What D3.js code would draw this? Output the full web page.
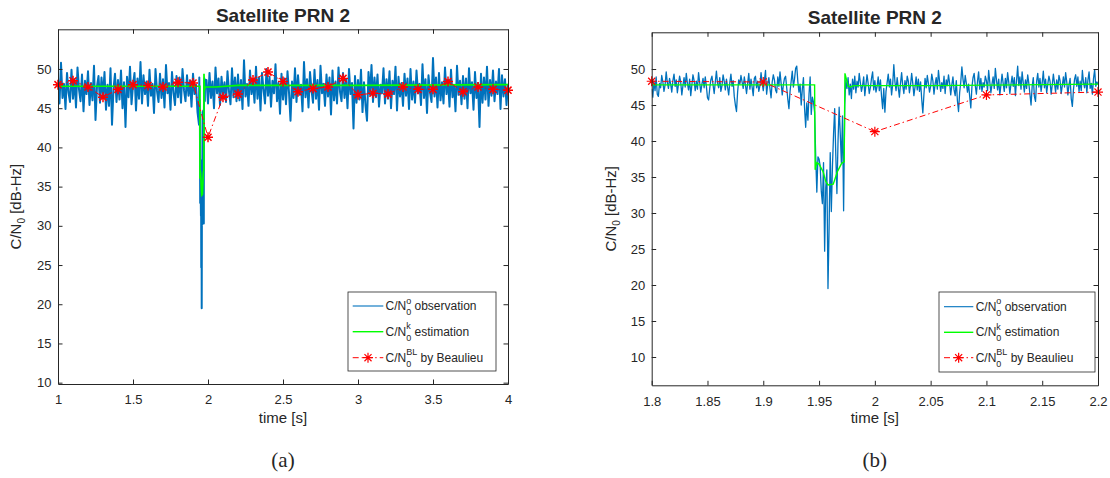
<!DOCTYPE html>
<html>
<head>
<meta charset="utf-8">
<script src="https://cdn.jsdelivr.net/npm/d3@7"></script>
<style>
  body { margin: 0; background: #fff; }
  text { font-family: "Liberation Sans", Arial, sans-serif; fill: #262626; }
</style>
</head>
<body>
<svg id="fig" width="1110" height="478"></svg>
<script>
// C/N0 observation, 1 ms samples from 1.800 s to 2.200 s
var fineStart = 1.8, fineStep = 0.001;
var obsFine = [
  47.2,46.1,48.3,47.0,48.9,46.5,46.2,48.0,47.4,49.1,
  48.2,46.9,47.8,49.6,48.1,47.3,48.7,47.9,46.8,48.4,
  49.3,47.6,48.5,46.7,47.9,49.0,48.2,46.4,47.7,48.8,
  47.5,49.4,48.0,47.1,48.6,46.3,47.8,49.2,48.4,47.0,
  48.3,47.2,49.5,48.1,46.8,47.9,48.7,47.4,48.9,47.6,
  46.0,45.7,47.3,48.5,49.0,47.8,46.6,48.2,49.7,48.0,
  47.4,48.8,46.9,47.7,49.2,48.3,47.1,48.6,47.5,46.4,
  48.1,49.3,47.6,48.4,46.2,45.0,44.1,46.8,48.5,47.9,
  49.1,48.2,47.3,48.9,47.8,46.6,48.0,49.4,47.2,48.6,
  47.5,46.3,48.7,49.0,47.4,48.3,46.9,47.7,49.5,48.1,
  47.0,48.4,49.8,46.5,47.9,48.8,47.3,46.0,48.2,49.2,
  48.5,47.1,46.7,48.9,47.6,49.6,48.0,46.4,47.8,48.7,
  49.0,47.4,45.8,44.5,46.9,48.3,49.7,47.5,48.6,50.1,
  50.4,48.2,46.8,47.9,45.0,47.2,48.8,44.6,41.9,45.3,
  42.9,46.5,48.9,43.7,46.1,45.4,
  44.0,37.8,32.9,37.8,37.5,36.5,33.0,31.3,37.0,24.7,
  33.5,36.0,19.5,28.0,38.4,30.2,36.5,41.0,44.5,38.0,
  32.7,40.0,44.7,41.0,37.0,43.5,30.3,45.0,48.5,
  47.3,48.8,46.4,47.9,45.9,
  48.6,47.2,49.0,46.7,48.3,47.5,49.4,48.1,46.9,47.7,
  48.9,46.3,47.8,49.2,48.0,46.6,47.4,48.7,49.6,47.1,
  48.4,46.8,47.6,48.9,47.0,48.5,46.2,44.5,47.3,44.0,
  46.9,48.1,49.3,47.5,48.6,46.4,47.9,50.6,48.2,47.0,
  48.8,47.4,46.1,48.0,49.5,47.7,46.6,48.4,47.2,49.0,
  48.3,46.7,47.8,49.4,48.0,46.3,47.5,48.9,47.1,48.6,
  46.9,48.2,45.8,43.9,46.5,48.7,47.4,49.1,48.0,46.8,
  47.6,49.3,48.4,46.5,47.9,48.8,47.2,49.8,48.3,46.9,
  48.1,47.3,49.0,46.6,48.5,47.7,49.2,48.0,46.4,47.8,
  48.9,47.1,46.3,48.4,45.6,44.1,46.7,48.2,50.3,48.6,
  47.4,49.1,48.0,46.8,47.9,46.2,44.6,47.5,48.8,49.4,
  47.7,46.5,48.3,49.6,47.2,48.7,46.9,48.1,47.5,49.0,
  48.4,47.0,49.8,48.2,46.7,47.9,48.9,47.3,50.1,48.5,
  47.1,48.6,46.4,47.8,49.3,48.0,46.9,48.7,47.4,49.5,
  48.2,46.6,47.9,49.0,47.6,48.8,46.3,48.4,50.4,47.7,
  48.9,47.2,49.6,48.1,46.8,48.5,47.3,49.2,48.0,46.5,
  45.0,47.6,48.8,46.2,45.5,48.3,49.4,47.5,48.7,46.9,
  48.1,49.7,47.4,48.6,46.7,47.9,49.0,48.3,46.5,47.8,
  49.3,48.0,46.8,48.5,47.2,49.1,48.4,46.6,47.7,48.9,
  47.5,49.5,48.2,46.4,47.8,48.7,45.9,44.8,47.1,48.6,
  49.2,47.6,48.9,46.9,48.3,47.0,49.8,48.1,47.4,48.8,
  46.7,48.5,49.6,47.3,48.0,46.5,48.7,49.9,47.6,48.2,
  47.9
];

// C/N0 observation, 10 ms samples from 1.00 s to 4.00 s
var coarseStart = 1.0, coarseStep = 0.01;
var obsCoarse = [
  48.9,45.6,50.8,46.3,48.1,44.9,49.5,47.0,45.8,49.9,
  46.2,48.7,45.1,50.2,47.4,45.9,49.3,44.6,48.5,46.8,
  49.7,45.4,48.2,46.0,50.4,43.5,47.8,49.1,45.7,48.9,
  46.5,49.6,44.8,48.0,45.3,50.1,42.9,47.5,49.4,45.8,
  48.6,46.1,49.8,45.0,48.3,42.6,49.0,46.4,50.3,45.5,
  47.9,49.5,44.7,48.8,46.2,50.9,45.6,49.2,46.8,48.4,
  45.3,49.9,46.6,48.1,44.4,50.0,47.2,45.8,49.4,46.3,
  48.7,45.1,50.5,46.9,48.2,44.8,49.6,47.0,45.4,49.1,
  46.4,48.9,45.7,50.0,47.3,45.9,49.2,46.6,48.5,45.2,
  49.4,46.8,48.0,44.5,49.9,46.1,42.8,36.0,47.7,48.6,
  45.6,49.5,46.3,48.4,45.0,50.2,46.9,48.8,45.4,49.0,
  46.7,48.3,45.8,49.7,47.1,45.5,50.1,46.4,48.9,45.9,
  49.3,46.0,48.6,44.9,51.1,46.5,48.1,45.3,49.8,46.8,
  48.4,45.7,50.3,46.2,48.9,44.7,49.5,47.4,45.6,50.0,
  46.6,49.0,45.2,48.5,46.9,50.6,45.9,48.2,44.3,49.4,
  46.1,48.8,45.5,49.7,47.0,43.4,48.4,46.3,50.1,45.8,
  49.2,46.7,48.0,44.6,50.9,46.4,48.7,45.1,49.6,47.3,
  45.7,49.9,46.2,48.6,44.8,50.4,46.9,48.1,45.3,49.3,
  46.5,48.9,44.2,49.8,46.0,48.4,45.6,50.2,47.1,45.9,
  49.5,46.3,48.7,45.0,50.0,46.8,48.2,42.4,49.1,45.7,
  48.6,46.1,49.9,44.5,48.3,45.4,43.4,49.6,46.7,50.5,
  45.8,48.9,46.4,49.3,45.2,48.0,46.9,50.1,45.6,48.7,
  46.2,49.7,45.0,48.5,46.8,50.3,44.7,49.0,46.5,48.2,
  45.3,49.4,46.6,48.8,44.9,50.0,46.1,48.4,45.7,49.8,
  46.9,48.1,45.4,50.6,46.3,48.7,44.4,49.2,47.0,45.8,
  51.4,46.5,48.9,45.1,49.5,46.0,48.3,45.6,50.2,46.8,
  48.6,45.2,49.9,46.4,48.0,44.6,50.4,46.7,48.5,45.5,
  49.1,46.2,48.8,45.0,50.1,46.9,48.3,44.8,49.6,46.3,
  48.2,42.6,49.4,45.7,48.9,46.1,50.3,45.3,48.6,46.6,
  49.8,45.9,48.4,46.8,50.0,44.9,49.2,46.5,48.7,45.4,
  48.1
];

// C/N0 estimation (green)
var estTime  = [1.000, 1.946, 1.9465, 1.948, 1.950, 1.9537, 1.956, 1.958, 1.9627, 1.9663, 1.9702, 1.9725, 1.9732, 1.9745, 1.976, 1.978, 1.981, 2.05, 2.2, 3.0, 4.0];
var estValue = [47.8, 47.8, 36.0, 37.0, 36.8, 35.7, 34.4, 33.9, 34.0, 35.7, 36.9, 37.1, 49.4, 48.6, 47.6, 47.5, 47.7, 47.7, 47.9, 47.9, 48.0];

// C/N0 by Beaulieu (red, every 0.1 s)
var blTime  = [1.0,1.1,1.2,1.3,1.4,1.5,1.6,1.7,1.8,1.9,2.0,2.1,2.2,2.3,2.4,2.5,2.6,2.7,2.8,2.9,3.0,3.1,3.2,3.3,3.4,3.5,3.6,3.7,3.8,3.9,4.0];
var blValue = [48.0,48.5,47.7,46.4,47.4,48.0,47.9,47.7,48.3,48.2,41.3,46.4,46.8,48.6,49.6,48.4,47.1,47.5,47.7,48.8,46.7,46.9,46.8,47.7,47.4,47.4,48.4,47.1,47.7,47.4,47.3];

var xTicksA = [1, 1.5, 2, 2.5, 3, 3.5, 4];
var xTicksB = [1.8, 1.85, 1.9, 1.95, 2, 2.05, 2.1, 2.15, 2.2];
var yTicks  = [10, 15, 20, 25, 30, 35, 40, 45, 50];
var legendSup  = ["o", "k", "BL"];
var legendRest = ["observation", "estimation", "by Beaulieu"];

var cBlue = "#0072BD", cGreen = "#00FF00", cRed = "#FF0000", cAxis = "#262626";

var svg = d3.select("#fig");

// observation points for each panel; panel a uses the 1 ms samples only around the fade
var fineObs = obsFine.map(function (v, i) { return [fineStart + i * fineStep, v]; });
var coarseObs = obsCoarse.map(function (v, i) { return [coarseStart + i * coarseStep, v]; });
var obsA = coarseObs.filter(function (d, i) { return i < 94; })
  .concat(fineObs.filter(function (d, i) { return i >= 140 && i <= 180; }))
  .concat(coarseObs.filter(function (d, i) { return i > 98; }));
var estPts = estTime.map(function (t, i) { return [t, estValue[i]]; });
var blPts = blTime.map(function (t, i) { return [t, blValue[i]]; });

var panels = [
  { key: "a", left: 58, right: 508, top: 29.3, bottom: 384, xDom: [1, 4], yDom: [9.83, 55.06],
    xTicks: xTicksA, obs: obsA, obsWidth: 2, estWidth: 1.7, starWidth: 1.5, titleY: 21.7, ylabX: 20.5,
    legend: { x: 348, y: 292, w: 148, h: 79, lx1: 352.7, lx2: 383.3, tx: 385.5, rows: [306, 331.7, 357.7] } },
  { key: "b", left: 651.7, right: 1098, top: 32.3, bottom: 385.3, xDom: [1.8, 2.2], yDom: [6.07, 55.1],
    xTicks: xTicksB, obs: fineObs, obsWidth: 1.3, estWidth: 1.4, starWidth: 1.2, titleY: 24, ylabX: 615.5,
    legend: { x: 939, y: 292, w: 156, h: 80, lx1: 944, lx2: 973.3, tx: 975.7, rows: [306.7, 332.3, 357.7] } }
];

function asterisk(r) {
  var a = r * 0.7071;
  return "M" + (-r) + ",0L" + r + ",0M0," + (-r) + "L0," + r +
    "M" + (-a) + "," + (-a) + "L" + a + "," + a + "M" + (-a) + "," + a + "L" + a + "," + (-a);
}

function styleAxis(g) {
  g.attr("font-family", null).attr("font-size", null);
  g.selectAll(".domain").attr("stroke", cAxis).attr("stroke-width", 1);
  g.selectAll(".tick line").attr("stroke", cAxis).attr("stroke-width", 1);
  g.selectAll(".tick text").attr("fill", cAxis).style("font-size", "13px");
}

panels.forEach(function (p) {
  var x = d3.scaleLinear().domain(p.xDom).range([p.left, p.right]);
  var y = d3.scaleLinear().domain(p.yDom).range([p.bottom, p.top]);
  var w = p.right - p.left, h = p.bottom - p.top;
  var g = svg.append("g");

  g.append("clipPath").attr("id", "clip-" + p.key)
    .append("rect").attr("x", p.left).attr("y", p.top).attr("width", w).attr("height", h);

  var line = d3.line().x(function (d) { return x(d[0]); }).y(function (d) { return y(d[1]); });
  var plot = g.append("g").attr("clip-path", "url(#clip-" + p.key + ")");

  plot.append("path").datum(p.obs).attr("d", line)
    .attr("fill", "none").attr("stroke", cBlue).attr("stroke-width", p.obsWidth).attr("stroke-linejoin", "round");
  plot.append("path").datum(estPts).attr("d", line)
    .attr("fill", "none").attr("stroke", cGreen).attr("stroke-width", p.estWidth);
  plot.append("path").datum(blPts).attr("d", line)
    .attr("fill", "none").attr("stroke", cRed).attr("stroke-width", 1)
    .attr("stroke-dasharray", "6,3,1.5,3");

  // markers are not clipped (MATLAB style)
  g.selectAll("path.star").data(blPts.filter(function (d) {
      return d[0] >= p.xDom[0] - 1e-9 && d[0] <= p.xDom[1] + 1e-9;
    }))
    .enter().append("path").attr("class", "star")
    .attr("transform", function (d) { return "translate(" + x(d[0]) + "," + y(d[1]) + ")"; })
    .attr("d", asterisk(5)).attr("fill", "none").attr("stroke", cRed).attr("stroke-width", p.starWidth);

  // axes, ticks pointing inward on all four sides
  var fmt = d3.format("~g");
  g.append("g").attr("transform", "translate(0," + p.bottom + ")")
    .call(d3.axisBottom(x).tickValues(p.xTicks).tickFormat(fmt).tickSizeInner(-4.5).tickSizeOuter(0).tickPadding(11))
    .call(styleAxis);
  g.append("g").attr("transform", "translate(0," + p.top + ")")
    .call(d3.axisTop(x).tickValues(p.xTicks).tickFormat("").tickSizeInner(-4.5).tickSizeOuter(0))
    .call(styleAxis);
  g.append("g").attr("transform", "translate(" + p.left + ",0)")
    .call(d3.axisLeft(y).tickValues(yTicks).tickFormat(fmt).tickSizeInner(-4.5).tickSizeOuter(0).tickPadding(6.5))
    .call(styleAxis);
  g.append("g").attr("transform", "translate(" + p.right + ",0)")
    .call(d3.axisRight(y).tickValues(yTicks).tickFormat("").tickSizeInner(-4.5).tickSizeOuter(0))
    .call(styleAxis);

  var cx = (p.left + p.right) / 2, cy = (p.top + p.bottom) / 2;

  // title
  g.append("text").attr("x", cx).attr("y", p.titleY).attr("text-anchor", "middle")
    .style("font-size", "19px").style("font-weight", "bold").attr("fill", "#000")
    .text("Satellite PRN 2");

  // y label
  var yl = g.append("text").attr("transform", "translate(" + p.ylabX + "," + cy + ") rotate(-90)")
    .attr("text-anchor", "middle").style("font-size", "15px");
  yl.append("tspan").text("C/N");
  yl.append("tspan").attr("dy", 4).style("font-size", "10px").text("0");
  yl.append("tspan").attr("dy", -4).text("\u00a0[dB-Hz]");

  // x label
  g.append("text").attr("x", cx).attr("y", 423).attr("text-anchor", "middle")
    .style("font-size", "15px").text("time [s]");

  // sub-figure tag
  g.append("text").attr("x", cx).attr("y", 467).attr("text-anchor", "middle")
    .style("font-family", "'Liberation Serif', 'Times New Roman', serif").style("font-size", "21px")
    .attr("fill", "#000").text("(" + p.key + ")");

  // legend
  var L = p.legend;
  var lg = g.append("g");
  lg.append("rect").attr("x", L.x).attr("y", L.y).attr("width", L.w).attr("height", L.h)
    .attr("fill", "#fff").attr("stroke", cAxis).attr("stroke-width", 0.8);
  var sampleStyle = [
    { stroke: cBlue, width: 1.1, dash: null },
    { stroke: cGreen, width: 1.4, dash: null },
    { stroke: cRed, width: 1, dash: "6,3,1.5,3" }
  ];
  L.rows.forEach(function (ry, i) {
    var s = sampleStyle[i];
    lg.append("line").attr("x1", L.lx1).attr("x2", L.lx2).attr("y1", ry).attr("y2", ry)
      .attr("stroke", s.stroke).attr("stroke-width", s.width).attr("stroke-dasharray", s.dash);
    if (i === 2) {
      lg.append("path").attr("transform", "translate(" + ((L.lx1 + L.lx2) / 2) + "," + ry + ")")
        .attr("d", asterisk(5)).attr("fill", "none").attr("stroke", cRed).attr("stroke-width", 1.2);
    }
    var base = ry + 4;
    var t1 = lg.append("text").attr("x", L.tx).attr("y", base).style("font-size", "12px").text("C/N");
    var w1 = t1.node().getComputedTextLength();
    var sub = lg.append("text").attr("x", L.tx + w1).attr("y", base + 5).style("font-size", "9px").text("0");
    var sup = lg.append("text").attr("x", L.tx + w1).attr("y", base - 6.3).style("font-size", "9px").text(legendSup[i]);
    var w2 = Math.max(sub.node().getComputedTextLength(), sup.node().getComputedTextLength());
    lg.append("text").attr("x", L.tx + w1 + w2 + 3.3).attr("y", base).style("font-size", "12px").text(legendRest[i]);
  });
});
</script>
</body>
</html>
